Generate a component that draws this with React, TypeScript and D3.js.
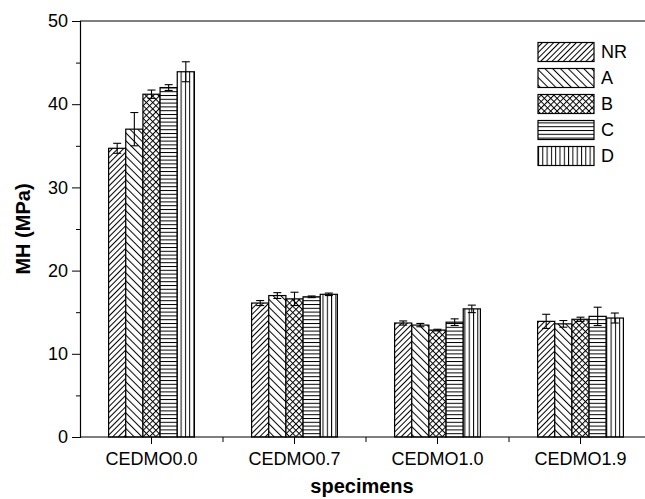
import React, { useEffect, useRef } from "react"
import * as d3 from "d3"

const categories = ["CEDMO0.0", "CEDMO0.7", "CEDMO1.0", "CEDMO1.9"]
const seriesKeys = ["NR", "A", "B", "C", "D"]

const nrValues = [34.7, 16.1, 13.7, 13.9]
const nrErrors = [0.6, 0.3, 0.25, 0.85]
const aValues = [37.0, 17.0, 13.45, 13.6]
const aErrors = [2.0, 0.35, 0.2, 0.4]
const bValues = [41.2, 16.6, 12.85, 14.15]
const bErrors = [0.5, 0.8, 0.1, 0.25]
const cValues = [42.0, 16.85, 13.8, 14.5]
const cErrors = [0.35, 0.1, 0.4, 1.1]
const dValues = [43.9, 17.15, 15.4, 14.3]
const dErrors = [1.2, 0.15, 0.45, 0.6]

const yTicks = [0, 10, 20, 30, 40, 50]
const yMinorTicks = [5, 15, 25, 35, 45]

const App = () => {
	const svgRef = useRef(null)

	useEffect(() => {
		const width = 645
		const height = 499
		const margin = { top: 21, left: 80, bottom: 62 }
		const plotRight = 652

		const series = [
			{ key: "NR", values: nrValues, errors: nrErrors },
			{ key: "A", values: aValues, errors: aErrors },
			{ key: "B", values: bValues, errors: bErrors },
			{ key: "C", values: cValues, errors: cErrors },
			{ key: "D", values: dValues, errors: dErrors },
		]

		const rows = []
		series.forEach((s) => {
			categories.forEach((cat, i) => {
				rows.push({ key: s.key, cat, value: s.values[i], err: s.errors[i] })
			})
		})

		const svg = d3
			.select(svgRef.current)
			.attr("width", width)
			.attr("height", height)
		svg.selectAll("*").remove()

		// hatch patterns
		const defs = svg.append("defs")
		const hatch = (id, size, angle, cross) => {
			const p = defs
				.append("pattern")
				.attr("id", id)
				.attr("patternUnits", "userSpaceOnUse")
				.attr("width", size)
				.attr("height", size)
				.attr("patternTransform", `rotate(${angle})`)
			p.append("rect").attr("width", size).attr("height", size).attr("fill", "#fff")
			p.append("line")
				.attr("x1", 0.5).attr("y1", 0).attr("x2", 0.5).attr("y2", size)
				.attr("stroke", "#000").attr("stroke-width", 1)
			if (cross)
				p.append("line")
					.attr("x1", 0).attr("y1", 0.5).attr("x2", size).attr("y2", 0.5)
					.attr("stroke", "#000").attr("stroke-width", 1)
		}
		hatch("p-NR", 4, 45, false)
		hatch("p-A", 5.5, -45, false)
		hatch("p-B", 4.5, 45, true)
		hatch("p-C", 3.8, 90, false)
		hatch("p-D", 4.3, 0, false)

		const x0 = d3
			.scaleBand()
			.domain(categories)
			.range([margin.left, plotRight])
		const groupW = x0.bandwidth() * 0.6
		const x1 = d3.scaleBand().domain(seriesKeys).range([0, groupW])
		const y = d3
			.scaleLinear()
			.domain([0, 50])
			.range([height - margin.bottom, margin.top])

		const bx = (d) => x0(d.cat) + x0.bandwidth() * 0.2 + x1(d.key)

		// bars
		svg.append("g")
			.selectAll("rect")
			.data(rows)
			.join("rect")
			.attr("x", bx)
			.attr("width", x1.bandwidth())
			.attr("y", (d) => y(d.value))
			.attr("height", (d) => y(0) - y(d.value))
			.attr("fill", (d) => `url(#p-${d.key})`)
			.attr("stroke", "#000")
			.attr("stroke-width", 1.2)

		// error bars
		const eb = svg.append("g").attr("stroke", "#000").attr("stroke-width", 1.1)
		rows.forEach((d) => {
			const cx = bx(d) + x1.bandwidth() / 2
			const hi = y(d.value + d.err)
			const lo = y(d.value - d.err)
			eb.append("line").attr("x1", cx).attr("x2", cx).attr("y1", hi).attr("y2", lo)
			eb.append("line").attr("x1", cx - 4).attr("x2", cx + 4).attr("y1", hi).attr("y2", hi)
			eb.append("line").attr("x1", cx - 4).attr("x2", cx + 4).attr("y1", lo).attr("y2", lo)
		})

		// frame
		svg.append("line")
			.attr("x1", margin.left).attr("x2", width)
			.attr("y1", margin.top).attr("y2", margin.top)
			.attr("stroke", "#000").attr("stroke-width", 1.2)

		// y axis
		const yAxis = svg
			.append("g")
			.attr("transform", `translate(${margin.left},0)`)
			.call(d3.axisLeft(y).tickValues(yTicks).tickSize(8).tickPadding(4))
		yAxis.selectAll("text")
			.attr("font-size", 18)
			.attr("font-family", "'Liberation Sans', Arial, sans-serif")
			.attr("fill", "#000")
		yAxis.select(".domain").attr("stroke-width", 1.2)
		svg.append("g")
			.attr("transform", `translate(${margin.left},0)`)
			.call(d3.axisLeft(y).tickValues(yMinorTicks).tickSize(4).tickFormat(() => ""))
			.call((g) => g.select(".domain").remove())

		// x axis
		const xAxis = svg
			.append("g")
			.attr("transform", `translate(0,${y(0)})`)
			.call(d3.axisBottom(x0).tickSize(7).tickPadding(8))
		xAxis.select(".domain").attr("d", `M${margin.left},0H${width}`).attr("stroke-width", 1.2)
		xAxis.selectAll("text")
			.attr("font-size", 18)
			.attr("font-family", "'Liberation Sans', Arial, sans-serif")
			.attr("fill", "#000")
		svg.append("g")
			.selectAll("line")
			.data(categories.slice(1))
			.join("line")
			.attr("x1", (d) => x0(d))
			.attr("x2", (d) => x0(d))
			.attr("y1", y(0))
			.attr("y2", y(0) + 5)
			.attr("stroke", "#000")

		// axis titles
		svg.append("text")
			.attr("x", (margin.left + plotRight) / 2 - 4)
			.attr("y", 493)
			.attr("text-anchor", "middle")
			.attr("font-size", 20)
			.attr("font-weight", "bold")
			.attr("font-family", "'Liberation Sans', Arial, sans-serif")
			.text("specimens")
		svg.append("text")
			.attr("transform", `translate(30,${(y(0) + y(50)) / 2}) rotate(-90)`)
			.attr("text-anchor", "middle")
			.attr("font-size", 20)
			.attr("font-weight", "bold")
			.attr("font-family", "'Liberation Sans', Arial, sans-serif")
			.text("MH (MPa)")

		// legend
		const legend = svg
			.append("g")
			.selectAll("g")
			.data(seriesKeys)
			.join("g")
			.attr("transform", (d, i) => `translate(538,${52 + i * 26})`)
		legend.append("rect")
			.attr("x", 0)
			.attr("y", -9.5)
			.attr("width", 56)
			.attr("height", 19)
			.attr("fill", (d) => `url(#p-${d})`)
			.attr("stroke", "#000")
			.attr("stroke-width", 1.2)
		legend.append("text")
			.attr("x", 63)
			.attr("y", 0)
			.attr("dy", "0.35em")
			.attr("font-size", 18)
			.attr("font-family", "'Liberation Sans', Arial, sans-serif")
			.text((d) => d)
	}, [])

	return (
		<div style={{ position: "absolute", left: 0, top: 0, width: 645, height: 499, overflow: "hidden" }}>
			<svg ref={svgRef} style={{ display: "block" }}></svg>
		</div>
	)
}

export default App
